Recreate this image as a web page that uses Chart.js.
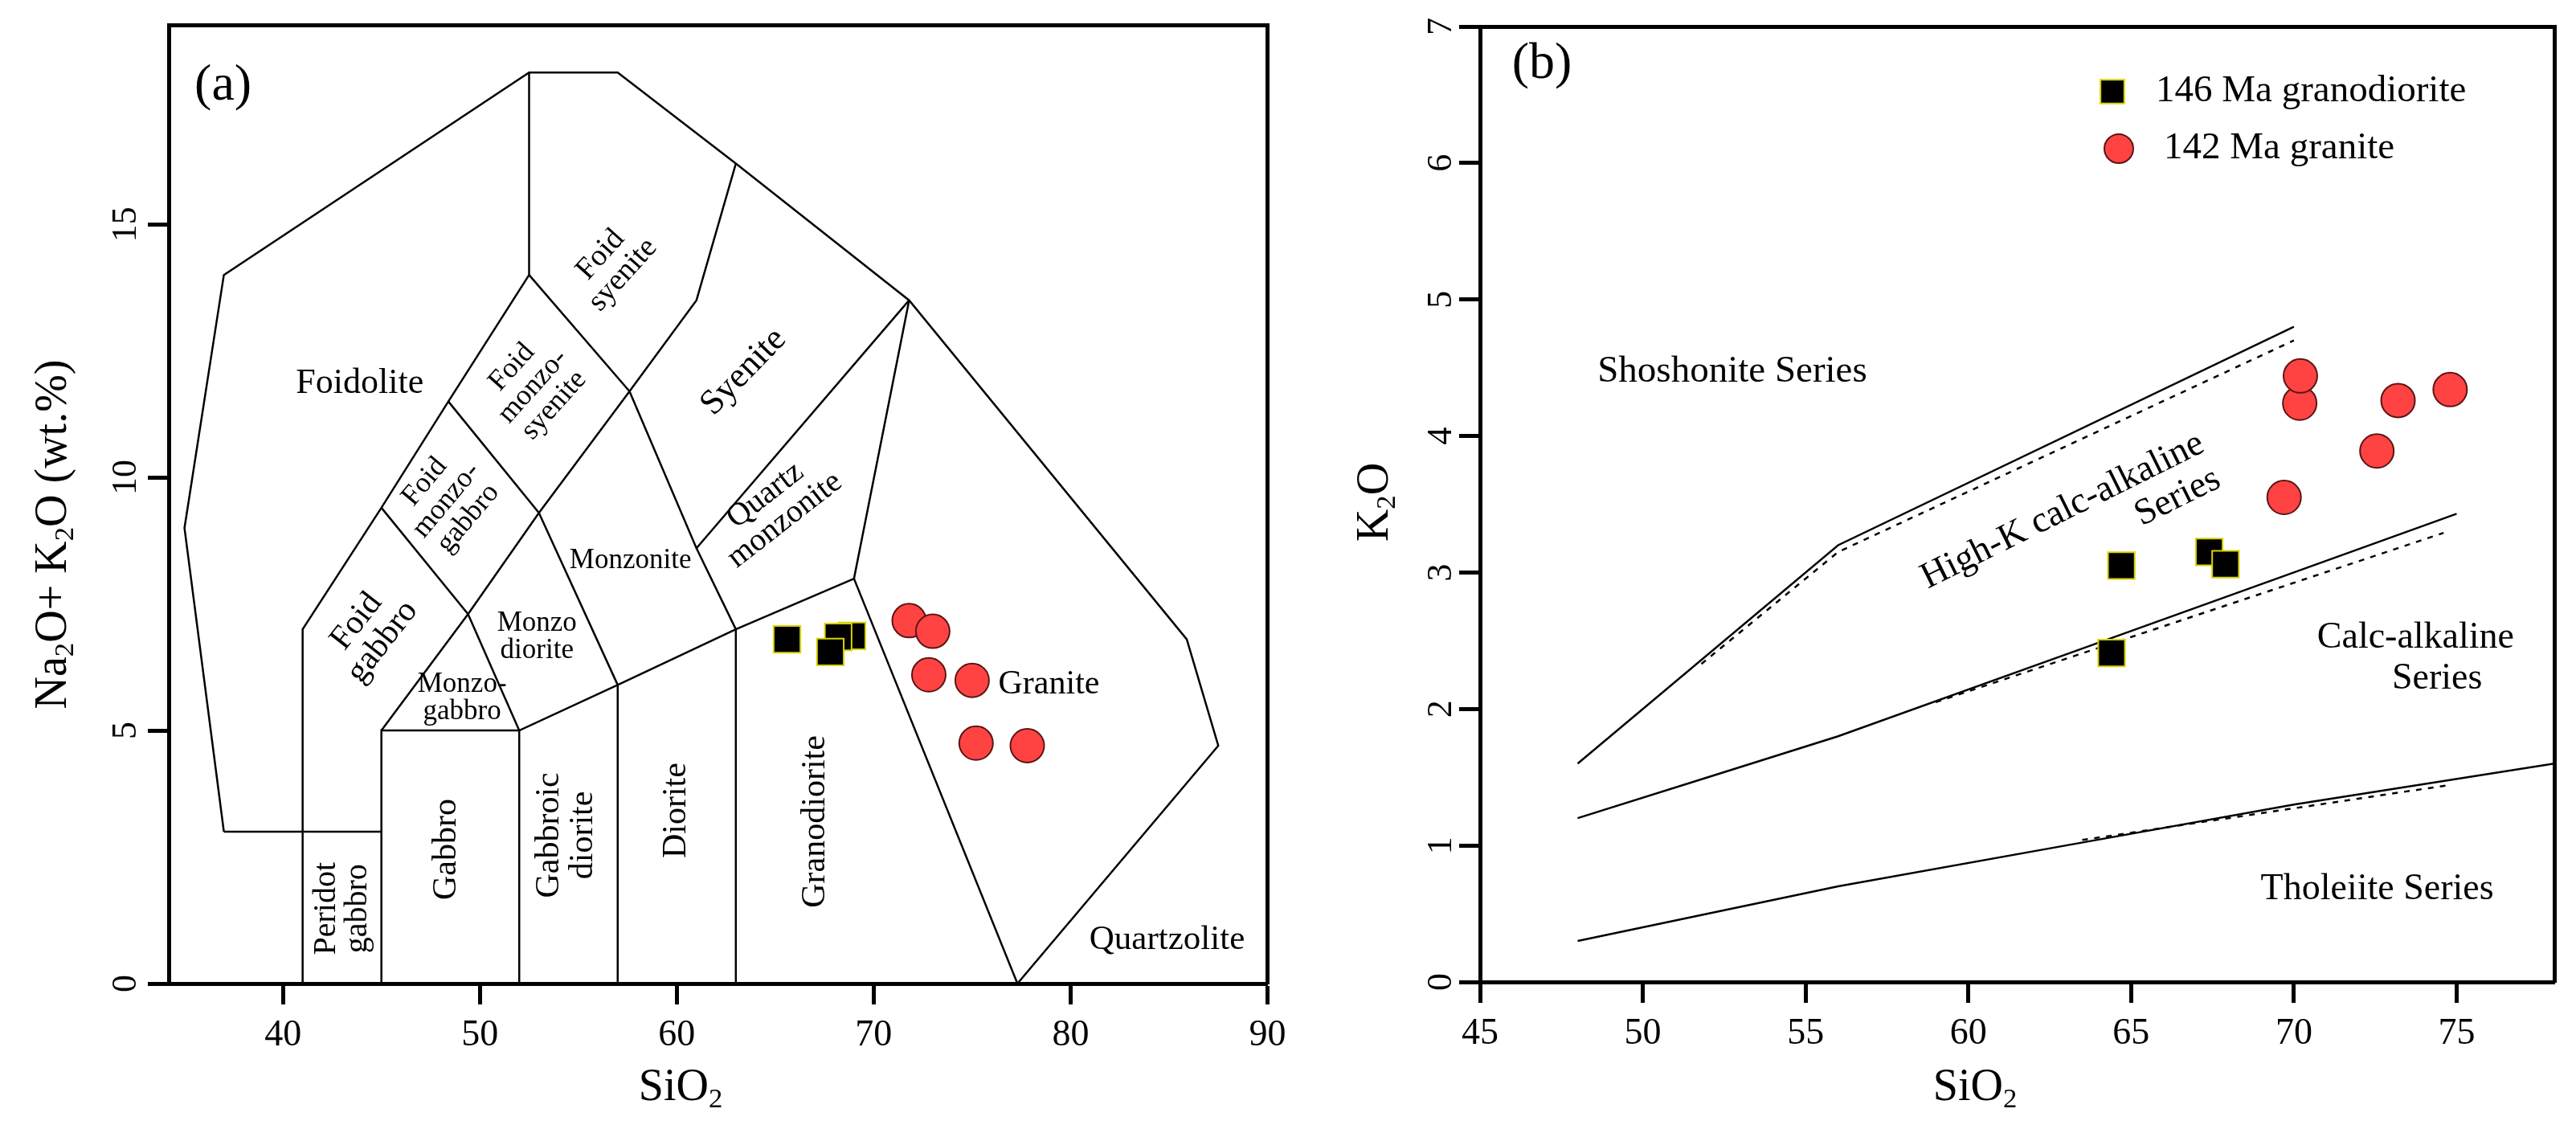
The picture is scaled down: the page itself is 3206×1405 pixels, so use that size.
<!DOCTYPE html>
<html>
<head>
<meta charset="utf-8">
<script src="https://cdn.jsdelivr.net/npm/chart.js@4.4.0/dist/chart.umd.min.js"></script>
<style>
  body { margin: 0; background: #fff; }
  #wrap { position: relative; width: 3206px; height: 1405px; }
  canvas { position: absolute; top: 0; }
</style>
</head>
<body>
<div id="wrap">
  <canvas id="tas" width="1603" height="1405" style="left:0"></canvas>
  <canvas id="k2o" width="1603" height="1405" style="left:1603px"></canvas>
</div>
<script>
// (a) TAS diagram samples
const tasSiO2Grd = [68.9, 68.2, 65.6, 67.8];
const tasAlkGrd = [6.87, 6.85, 6.8, 6.55];
const tasSiO2Gr = [71.8, 73.0, 72.8, 75.0, 75.2, 77.8];
const tasAlkGr = [7.17, 6.96, 6.10, 5.99, 4.75, 4.70];

// (b) K2O vs SiO2 samples
const kSiO2Grd = [64.7, 67.4, 67.9, 64.4];
const kK2OGrd = [3.05, 3.15, 3.06, 2.41];
const kSiO2Gr = [70.18, 70.2, 73.2, 74.8, 72.55, 69.7];
const kK2OGr = [4.24, 4.44, 4.26, 4.34, 3.89, 3.55];

// TAS field boundaries (SiO2, Na2O+K2O)
const tasLines = [
  [[37, 3], [35, 9], [37, 14], [52.5, 18], [57, 18], [63, 16.2], [71.8, 13.5], [85.9, 6.8], [87.5, 4.7], [77.3, 0]],
  [[37, 3], [45, 3]],
  [[41, 0], [41, 7], [45, 9.4], [48.4, 11.5], [52.5, 14], [52.5, 18]],
  [[45, 0], [45, 5], [52, 5], [57, 5.9], [63, 7], [69, 8], [71.8, 13.5]],
  [[45, 9.4], [49.4, 7.3]],
  [[48.4, 11.5], [53, 9.3]],
  [[52.5, 14], [57.6, 11.7]],
  [[45, 5], [49.4, 7.3], [53, 9.3], [57.6, 11.7], [61, 13.5], [63, 16.2]],
  [[49.4, 7.3], [52, 5], [52, 0]],
  [[53, 9.3], [57, 5.9], [57, 0]],
  [[57.6, 11.7], [61, 8.6], [63, 7], [63, 0]],
  [[61, 8.6], [71.8, 13.5]],
  [[69, 8], [77.3, 0]]
];

// K2O series boundaries
const kSolid = [
  [[48, 1.6], [56, 3.2], [70, 4.8]],
  [[48, 1.2], [52, 1.5], [56, 1.8], [63, 2.4], [70, 3.0], [75, 3.43]],
  [[48, 0.3], [52, 0.5], [56, 0.7], [63, 1.0], [70, 1.3], [78, 1.6]]
];
const kDotted = [
  [[51.8, 2.33], [56, 3.15], [70, 4.7]],
  [[59, 2.05], [74.6, 3.29]],
  [[63.5, 1.04], [74.7, 1.44]]
];

const tasXTicks = [40, 50, 60, 70, 80, 90];
const tasYTicks = [0, 5, 10, 15];
const kXTicks = [45, 50, 55, 60, 65, 70, 75];
const kYTicks = [0, 1, 2, 3, 4, 5, 6, 7];

const tasRegions = [
  { t: ["Foidolite"], x: 43.9, y: 11.86, r: 0, s: 44 },
  { t: ["Foid", "syenite"], x: 56.7, y: 14.2, r: -48, s: 38 },
  { t: ["Foid", "monzo-", "syenite"], x: 52.7, y: 11.8, r: -48, s: 36 },
  { t: ["Syenite"], x: 63.4, y: 12.08, r: -46, s: 44 },
  { t: ["Foid", "monzo-", "gabbro"], x: 48.3, y: 9.55, r: -50, s: 36 },
  { t: ["Quartz", "monzonite"], x: 65.0, y: 9.4, r: -38, s: 40 },
  { t: ["Monzonite"], x: 57.65, y: 8.36, r: 0, s: 35 },
  { t: ["Foid", "gabbro"], x: 44.4, y: 6.95, r: -52, s: 42 },
  { t: ["Monzo", "diorite"], x: 52.9, y: 6.84, r: 0, s: 35 },
  { t: ["Monzo-", "gabbro"], x: 49.1, y: 5.64, r: 0, s: 35 },
  { t: ["Peridot", "gabbro"], x: 43.0, y: 1.48, r: -90, s: 40 },
  { t: ["Gabbro"], x: 48.3, y: 2.65, r: -90, s: 42 },
  { t: ["Gabbroic", "diorite"], x: 54.4, y: 2.93, r: -90, s: 42 },
  { t: ["Diorite"], x: 60.0, y: 3.42, r: -90, s: 42 },
  { t: ["Granodiorite"], x: 67.06, y: 3.2, r: -90, s: 42 },
  { t: ["Granite"], x: 78.9, y: 5.9, r: 0, s: 42 },
  { t: ["Quartzolite"], x: 84.9, y: 0.86, r: 0, s: 43 },
  { t: ["(a)"], x: 36.96, y: 17.73, r: 0, s: 64 }
];

const kRegions = [
  { t: ["Shoshonite Series"], x: 52.75, y: 4.47, r: 0, s: 47 },
  { t: ["High-K calc-alkaline"], x: 62.9, y: 3.45, r: -26.4, s: 46 },
  { t: ["Series"], x: 66.43, y: 3.55, r: -26.4, s: 46 },
  { t: ["Calc-alkaline"], x: 73.74, y: 2.52, r: 0, s: 46 },
  { t: ["Series"], x: 74.4, y: 2.22, r: 0, s: 46 },
  { t: ["Tholeiite Series"], x: 72.56, y: 0.68, r: 0, s: 46 },
  { t: ["(b)"], x: 46.9, y: 6.72, r: 0, s: 64 }
];

const FONT = "'Liberation Serif', 'Times New Roman', serif";
Chart.defaults.font.family = FONT;
Chart.defaults.color = "#000";

function pts(xs, ys) {
  return xs.map((x, i) => ({ x: x, y: ys[i] }));
}

function lineSets(lines, dash) {
  return lines.map(l => ({
    data: l.map(p => ({ x: p[0], y: p[1] })),
    showLine: true,
    pointRadius: 0,
    borderColor: "#000",
    borderWidth: 2.5,
    borderDash: dash || [],
    order: 2
  }));
}

function squareSet(data) {
  return { data: data, pointStyle: "rect", pointRadius: 23.5, pointHoverRadius: 23.5,
    backgroundColor: "#000", borderColor: "#d8d200", borderWidth: 2, order: 0 };
}

function circleSet(data) {
  return { data: data, pointStyle: "circle", pointRadius: 21, pointHoverRadius: 21,
    backgroundColor: "#ff4343", borderColor: "#5c1414", borderWidth: 2, order: 0 };
}

function noPad(s) {
  s.paddingLeft = 0; s.paddingRight = 0; s.paddingTop = 0; s.paddingBottom = 0;
}

function makeScales(xMin, xMax, xTicks, yMin, yMax, yTicks, yWidth, xHeight, yPad) {
  const grid = { drawOnChartArea: false, drawTicks: true, tickLength: 26, tickWidth: 5, tickColor: "#000" };
  const border = { display: true, width: 5, color: "#000" };
  const frame = { drawOnChartArea: false, drawTicks: false };
  return {
    x: {
      type: "linear", position: "bottom", min: xMin, max: xMax, grid: grid, border: border,
      ticks: { font: { size: 46 }, color: "#000", padding: 11, maxRotation: 0, minRotation: 0, autoSkip: false },
      afterBuildTicks: s => { s.ticks = xTicks.map(v => ({ value: v })); },
      afterFit: s => { s.height = xHeight; noPad(s); }
    },
    y: {
      type: "linear", position: "left", min: yMin, max: yMax, grid: grid, border: border,
      ticks: { font: { size: 44 }, color: "#000", padding: yPad, minRotation: 90, maxRotation: 90,
        crossAlign: "center", autoSkip: false },
      afterBuildTicks: s => { s.ticks = yTicks.map(v => ({ value: v })); },
      afterFit: s => { s.width = yWidth; noPad(s); }
    },
    x2: {
      type: "linear", position: "top", min: xMin, max: xMax, grid: frame, border: border,
      ticks: { display: false },
      afterFit: s => { s.height = 0; noPad(s); }
    },
    y2: {
      type: "linear", position: "right", min: yMin, max: yMax, grid: frame, border: border,
      ticks: { display: false },
      afterFit: s => { s.width = 0; noPad(s); }
    }
  };
}

function drawLines(ctx, lines, x, y, size, rot) {
  ctx.save();
  ctx.translate(x, y);
  ctx.rotate(rot * Math.PI / 180);
  ctx.font = size + "px " + FONT;
  ctx.textAlign = "center";
  ctx.textBaseline = "middle";
  ctx.fillStyle = "#000";
  const off = (lines.length - 1) / 2;
  lines.forEach((t, i) => ctx.fillText(t, 0, (i - off) * size * 0.98));
  ctx.restore();
}

// text with subscripts: parts = [[text, isSub], ...]
function drawRich(ctx, parts, x, y, size, rot) {
  ctx.save();
  ctx.translate(x, y);
  ctx.rotate(rot * Math.PI / 180);
  ctx.textBaseline = "middle";
  ctx.textAlign = "left";
  ctx.fillStyle = "#000";
  let total = 0;
  const widths = parts.map(p => {
    ctx.font = (p[1] ? size * 0.62 : size) + "px " + FONT;
    const w = ctx.measureText(p[0]).width;
    total += w;
    return w;
  });
  let cx = -total / 2;
  parts.forEach((p, i) => {
    ctx.font = (p[1] ? size * 0.62 : size) + "px " + FONT;
    ctx.fillText(p[0], cx, p[1] ? size * 0.26 : 0);
    cx += widths[i];
  });
  ctx.restore();
}

function textPlugin(regions, titles, legend) {
  return {
    id: "texts",
    beforeDatasetsDraw(chart) {
      const xs = chart.scales.x, ys = chart.scales.y;
      regions.forEach(r => drawLines(chart.ctx, r.t, xs.getPixelForValue(r.x), ys.getPixelForValue(r.y), r.s, r.r));
    },
    afterDraw(chart) {
      const ctx = chart.ctx;
      titles.forEach(t => drawRich(ctx, t.parts, t.x, t.y, t.s, t.r));
      if (legend) {
        legend.forEach(l => {
          ctx.save();
          ctx.fillStyle = l.fill;
          ctx.strokeStyle = l.stroke;
          ctx.lineWidth = 2;
          Chart.helpers.drawPoint(ctx, { pointStyle: l.style, radius: l.radius, borderWidth: 2, rotation: 0 }, l.x, l.y);
          ctx.font = "47px " + FONT;
          ctx.fillStyle = "#000";
          ctx.textAlign = "left";
          ctx.textBaseline = "middle";
          ctx.fillText(l.text, l.tx, l.y);
          ctx.restore();
        });
      }
    }
  };
}

const common = {
  responsive: false,
  animation: false,
  devicePixelRatio: 1,
  events: [],
  plugins: { legend: { display: false }, tooltip: { enabled: false } }
};

new Chart(document.getElementById("tas"), {
  type: "scatter",
  data: {
    datasets: [
      squareSet(pts(tasSiO2Grd, tasAlkGrd)),
      circleSet(pts(tasSiO2Gr, tasAlkGr))
    ].concat(lineSets(tasLines))
  },
  options: Object.assign({}, common, {
    layout: { padding: { top: 31, right: 18, left: 0, bottom: 0 } },
    scales: makeScales(34.2, 90, tasXTicks, 0, 18.94, tasYTicks, 210, 181, 5)
  }),
  plugins: [textPlugin(tasRegions, [
    { parts: [["Na", 0], ["2", 1], ["O+ K", 0], ["2", 1], ["O (wt.%)", 0]], x: 67, y: 665, s: 56, r: -90 },
    { parts: [["SiO", 0], ["2", 1]], x: 847, y: 1354, s: 56, r: 0 }
  ])]
});

new Chart(document.getElementById("k2o"), {
  type: "scatter",
  data: {
    datasets: [
      squareSet(pts(kSiO2Grd, kK2OGrd)),
      circleSet(pts(kSiO2Gr, kK2OGr))
    ].concat(lineSets(kSolid), lineSets(kDotted, [7, 8]))
  },
  options: Object.assign({}, common, {
    layout: { padding: { top: 33, right: 27, left: 0, bottom: 0 } },
    scales: makeScales(45, 78, kXTicks, 0, 7, kYTicks, 239, 183, 11)
  }),
  plugins: [textPlugin(kRegions, [
    { parts: [["K", 0], ["2", 1], ["O", 0]], x: 109, y: 625, s: 56, r: -90 },
    { parts: [["SiO", 0], ["2", 1]], x: 855, y: 1354, s: 56, r: 0 }
  ], [
    { style: "rect", radius: 21, fill: "#000", stroke: "#d8d200", x: 1026, y: 114, tx: 1080, text: "146 Ma granodiorite" },
    { style: "circle", radius: 18, fill: "#ff4343", stroke: "#5c1414", x: 1034, y: 185, tx: 1090, text: "142 Ma granite" }
  ])]
});
</script>
</body>
</html>
